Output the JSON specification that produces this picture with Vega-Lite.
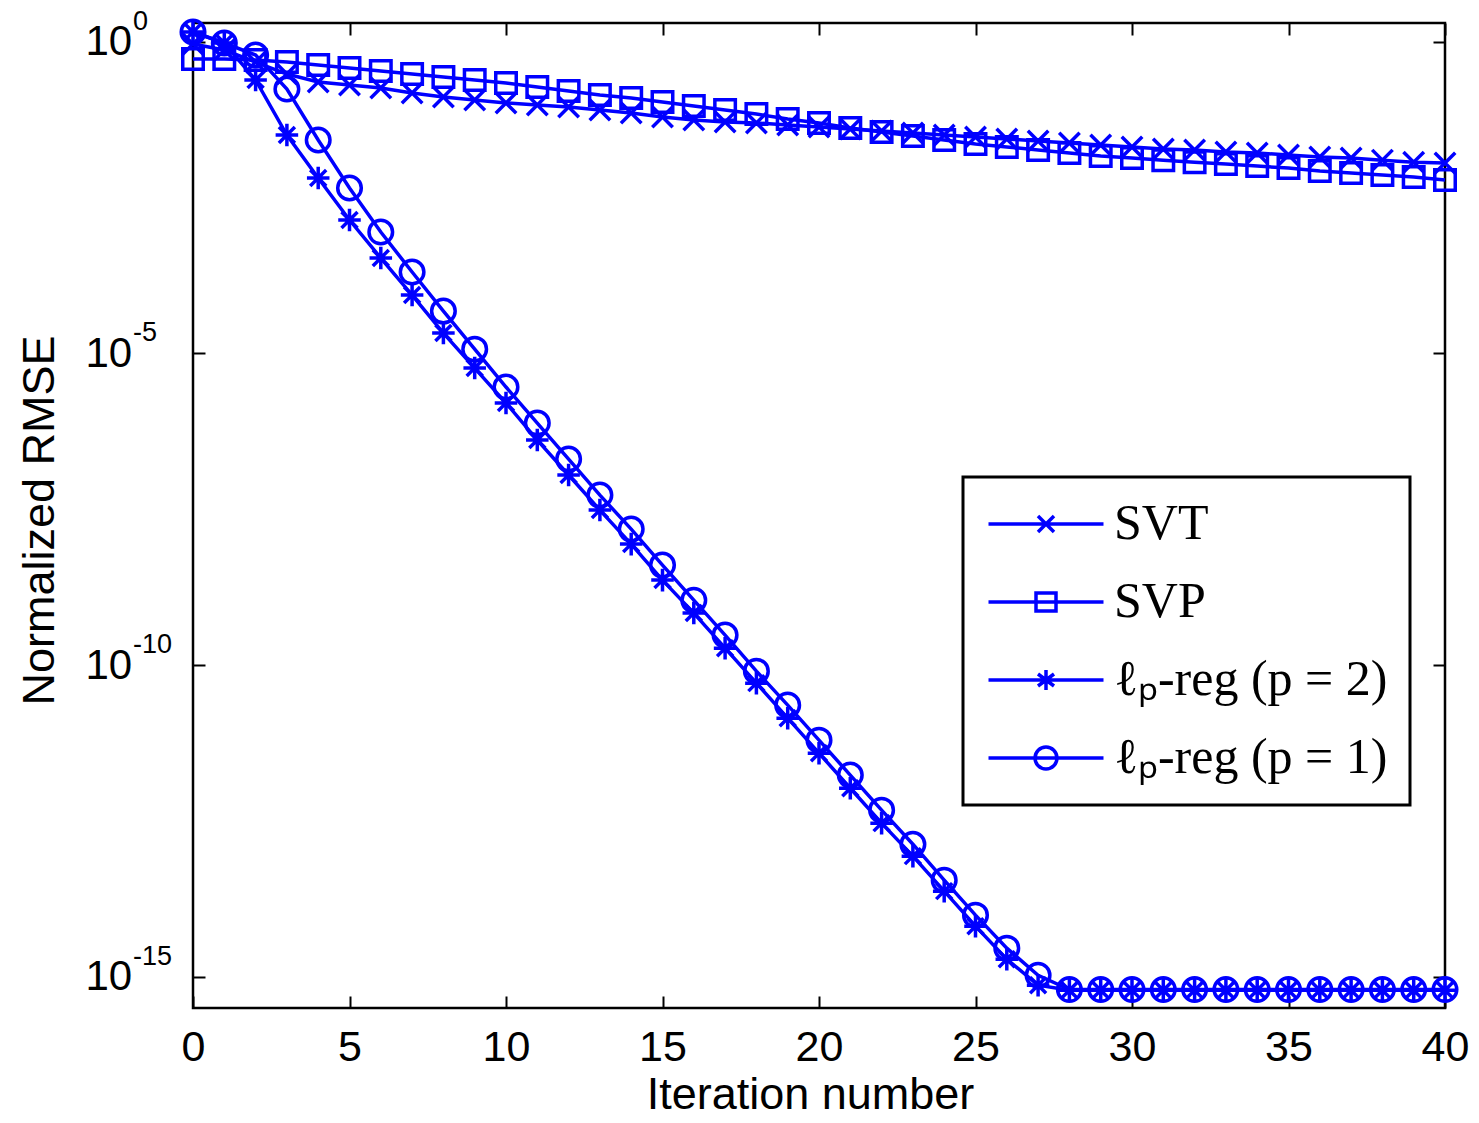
{
"$schema": "https://vega.github.io/schema/vega-lite/v6.json",
"width": 1252, "height": 985,
"autosize": {"type": "none"},
"padding": {"left": 193, "top": 23, "right": 34, "bottom": 115},
"background": "white",
"config": {"view": {"stroke": "black", "strokeWidth": 2.5}, "font": "Liberation Sans", "legend": {"strokeWidth": 3}},
"data": {"values": [
{"s":"SVT","x":0,"y":0.919},{"s":"SVT","x":1,"y":0.736},{"s":"SVT","x":2,"y":0.472},{"s":"SVT","x":3,"y":0.303},{"s":"SVT","x":4,"y":0.226},{"s":"SVT","x":5,"y":0.202},{"s":"SVT","x":6,"y":0.181},{"s":"SVT","x":7,"y":0.150},{"s":"SVT","x":8,"y":0.130},{"s":"SVT","x":9,"y":0.116},{"s":"SVT","x":10,"y":0.104},{"s":"SVT","x":11,"y":0.0965},{"s":"SVT","x":12,"y":0.0896},{"s":"SVT","x":13,"y":0.0802},{"s":"SVT","x":14,"y":0.0718},{"s":"SVT","x":15,"y":0.0619},{"s":"SVT","x":16,"y":0.0554},{"s":"SVT","x":17,"y":0.0515},{"s":"SVT","x":18,"y":0.0497},{"s":"SVT","x":19,"y":0.0461},{"s":"SVT","x":20,"y":0.0428},{"s":"SVT","x":21,"y":0.0397},{"s":"SVT","x":22,"y":0.0369},{"s":"SVT","x":23,"y":0.0343},{"s":"SVT","x":24,"y":0.0318},{"s":"SVT","x":25,"y":0.0296},{"s":"SVT","x":26,"y":0.0275},{"s":"SVT","x":27,"y":0.0255},{"s":"SVT","x":28,"y":0.0237},{"s":"SVT","x":29,"y":0.0220},{"s":"SVT","x":30,"y":0.0205},{"s":"SVT","x":31,"y":0.0190},{"s":"SVT","x":32,"y":0.0183},{"s":"SVT","x":33,"y":0.0170},{"s":"SVT","x":34,"y":0.0164},{"s":"SVT","x":35,"y":0.0152},{"s":"SVT","x":36,"y":0.0141},{"s":"SVT","x":37,"y":0.0136},{"s":"SVT","x":38,"y":0.0126},{"s":"SVT","x":39,"y":0.0117},{"s":"SVT","x":40,"y":0.0113},
{"s":"SVP","x":0,"y":0.527},{"s":"SVP","x":1,"y":0.527},{"s":"SVP","x":2,"y":0.508},{"s":"SVP","x":3,"y":0.472},{"s":"SVP","x":4,"y":0.423},{"s":"SVP","x":5,"y":0.378},{"s":"SVP","x":6,"y":0.339},{"s":"SVP","x":7,"y":0.303},{"s":"SVP","x":8,"y":0.271},{"s":"SVP","x":9,"y":0.243},{"s":"SVP","x":10,"y":0.218},{"s":"SVP","x":11,"y":0.188},{"s":"SVP","x":12,"y":0.162},{"s":"SVP","x":13,"y":0.140},{"s":"SVP","x":14,"y":0.125},{"s":"SVP","x":15,"y":0.108},{"s":"SVP","x":16,"y":0.0930},{"s":"SVP","x":17,"y":0.0802},{"s":"SVP","x":18,"y":0.0692},{"s":"SVP","x":19,"y":0.0575},{"s":"SVP","x":20,"y":0.0497},{"s":"SVP","x":21,"y":0.0412},{"s":"SVP","x":22,"y":0.0356},{"s":"SVP","x":23,"y":0.0307},{"s":"SVP","x":24,"y":0.0265},{"s":"SVP","x":25,"y":0.0229},{"s":"SVP","x":26,"y":0.0205},{"s":"SVP","x":27,"y":0.0183},{"s":"SVP","x":28,"y":0.0164},{"s":"SVP","x":29,"y":0.0147},{"s":"SVP","x":30,"y":0.0136},{"s":"SVP","x":31,"y":0.0126},{"s":"SVP","x":32,"y":0.0117},{"s":"SVP","x":33,"y":0.0109},{"s":"SVP","x":34,"y":0.0101},{"s":"SVP","x":35,"y":0.00941},{"s":"SVP","x":36,"y":0.00843},{"s":"SVP","x":37,"y":0.00782},{"s":"SVP","x":38,"y":0.00726},{"s":"SVP","x":39,"y":0.00675},{"s":"SVP","x":40,"y":0.00604},
{"s":"ℓₚ-reg (p = 2)","x":0,"y":1.43},{"s":"ℓₚ-reg (p = 2)","x":1,"y":0.953},{"s":"ℓₚ-reg (p = 2)","x":2,"y":0.243},{"s":"ℓₚ-reg (p = 2)","x":3,"y":0.0318},{"s":"ℓₚ-reg (p = 2)","x":4,"y":6.50e-3},{"s":"ℓₚ-reg (p = 2)","x":5,"y":1.38e-3},{"s":"ℓₚ-reg (p = 2)","x":6,"y":3.39e-4},{"s":"ℓₚ-reg (p = 2)","x":7,"y":8.63e-5},{"s":"ℓₚ-reg (p = 2)","x":8,"y":2.12e-5},{"s":"ℓₚ-reg (p = 2)","x":9,"y":5.82e-6},{"s":"ℓₚ-reg (p = 2)","x":10,"y":1.60e-6},{"s":"ℓₚ-reg (p = 2)","x":11,"y":4.07e-7},{"s":"ℓₚ-reg (p = 2)","x":12,"y":1.12e-7},{"s":"ℓₚ-reg (p = 2)","x":13,"y":3.07e-8},{"s":"ℓₚ-reg (p = 2)","x":14,"y":8.73e-9},{"s":"ℓₚ-reg (p = 2)","x":15,"y":2.31e-9},{"s":"ℓₚ-reg (p = 2)","x":16,"y":6.83e-10},{"s":"ℓₚ-reg (p = 2)","x":17,"y":1.87e-10},{"s":"ℓₚ-reg (p = 2)","x":18,"y":5.14e-11},{"s":"ℓₚ-reg (p = 2)","x":19,"y":1.41e-11},{"s":"ℓₚ-reg (p = 2)","x":20,"y":3.87e-12},{"s":"ℓₚ-reg (p = 2)","x":21,"y":1.06e-12},{"s":"ℓₚ-reg (p = 2)","x":22,"y":2.92e-13},{"s":"ℓₚ-reg (p = 2)","x":23,"y":8.63e-14},{"s":"ℓₚ-reg (p = 2)","x":24,"y":2.37e-14},{"s":"ℓₚ-reg (p = 2)","x":25,"y":6.50e-15},{"s":"ℓₚ-reg (p = 2)","x":26,"y":1.92e-15},{"s":"ℓₚ-reg (p = 2)","x":27,"y":7.34e-16},{"s":"ℓₚ-reg (p = 2)","x":28,"y":6.11e-16},{"s":"ℓₚ-reg (p = 2)","x":29,"y":6.11e-16},{"s":"ℓₚ-reg (p = 2)","x":30,"y":6.11e-16},{"s":"ℓₚ-reg (p = 2)","x":31,"y":6.11e-16},{"s":"ℓₚ-reg (p = 2)","x":32,"y":6.11e-16},{"s":"ℓₚ-reg (p = 2)","x":33,"y":6.11e-16},{"s":"ℓₚ-reg (p = 2)","x":34,"y":6.11e-16},{"s":"ℓₚ-reg (p = 2)","x":35,"y":6.11e-16},{"s":"ℓₚ-reg (p = 2)","x":36,"y":6.11e-16},{"s":"ℓₚ-reg (p = 2)","x":37,"y":6.11e-16},{"s":"ℓₚ-reg (p = 2)","x":38,"y":6.11e-16},{"s":"ℓₚ-reg (p = 2)","x":39,"y":6.11e-16},{"s":"ℓₚ-reg (p = 2)","x":40,"y":6.11e-16},
{"s":"ℓₚ-reg (p = 1)","x":0,"y":1.43},{"s":"ℓₚ-reg (p = 1)","x":1,"y":0.953},{"s":"ℓₚ-reg (p = 1)","x":2,"y":0.612},{"s":"ℓₚ-reg (p = 1)","x":3,"y":0.174},{"s":"ℓₚ-reg (p = 1)","x":4,"y":0.0265},{"s":"ℓₚ-reg (p = 1)","x":5,"y":4.50e-3},{"s":"ℓₚ-reg (p = 1)","x":6,"y":8.85e-4},{"s":"ℓₚ-reg (p = 1)","x":7,"y":2.02e-4},{"s":"ℓₚ-reg (p = 1)","x":8,"y":4.78e-5},{"s":"ℓₚ-reg (p = 1)","x":9,"y":1.17e-5},{"s":"ℓₚ-reg (p = 1)","x":10,"y":2.89e-6},{"s":"ℓₚ-reg (p = 1)","x":11,"y":7.63e-7},{"s":"ℓₚ-reg (p = 1)","x":12,"y":2.02e-7},{"s":"ℓₚ-reg (p = 1)","x":13,"y":5.34e-8},{"s":"ℓₚ-reg (p = 1)","x":14,"y":1.52e-8},{"s":"ℓₚ-reg (p = 1)","x":15,"y":4.02e-9},{"s":"ℓₚ-reg (p = 1)","x":16,"y":1.10e-9},{"s":"ℓₚ-reg (p = 1)","x":17,"y":3.03e-10},{"s":"ℓₚ-reg (p = 1)","x":18,"y":8.00e-11},{"s":"ℓₚ-reg (p = 1)","x":19,"y":2.28e-11},{"s":"ℓₚ-reg (p = 1)","x":20,"y":6.25e-12},{"s":"ℓₚ-reg (p = 1)","x":21,"y":1.72e-12},{"s":"ℓₚ-reg (p = 1)","x":22,"y":4.71e-13},{"s":"ℓₚ-reg (p = 1)","x":23,"y":1.34e-13},{"s":"ℓₚ-reg (p = 1)","x":24,"y":3.55e-14},{"s":"ℓₚ-reg (p = 1)","x":25,"y":9.75e-15},{"s":"ℓₚ-reg (p = 1)","x":26,"y":2.88e-15},{"s":"ℓₚ-reg (p = 1)","x":27,"y":1.06e-15},{"s":"ℓₚ-reg (p = 1)","x":28,"y":6.25e-16},{"s":"ℓₚ-reg (p = 1)","x":29,"y":6.25e-16},{"s":"ℓₚ-reg (p = 1)","x":30,"y":6.25e-16},{"s":"ℓₚ-reg (p = 1)","x":31,"y":6.25e-16},{"s":"ℓₚ-reg (p = 1)","x":32,"y":6.25e-16},{"s":"ℓₚ-reg (p = 1)","x":33,"y":6.25e-16},{"s":"ℓₚ-reg (p = 1)","x":34,"y":6.25e-16},{"s":"ℓₚ-reg (p = 1)","x":35,"y":6.25e-16},{"s":"ℓₚ-reg (p = 1)","x":36,"y":6.25e-16},{"s":"ℓₚ-reg (p = 1)","x":37,"y":6.25e-16},{"s":"ℓₚ-reg (p = 1)","x":38,"y":6.25e-16},{"s":"ℓₚ-reg (p = 1)","x":39,"y":6.25e-16},{"s":"ℓₚ-reg (p = 1)","x":40,"y":6.25e-16}
]},
"layer": [
{
"mark": {"type": "line", "color": "#0000ff", "strokeWidth": 3.5},
"encoding": {
"x": {"field": "x", "type": "quantitative", "scale": {"domain": [0, 40], "nice": false},
"axis": {"orient": "bottom", "values": [0,5,10,15,20,25,30,35,40], "domain": false, "grid": false, "tickSize": -12, "tickWidth": 2, "tickColor": "black", "labelFontSize": 43, "labelColor": "black", "labelPadding": 30, "labelFlush": false, "title": "Iteration number", "titleFontSize": 45, "titleFontWeight": "normal", "titleColor": "black", "titleY": 100, "titleX": 617, "titleBaseline": "alphabetic", "titleAlign": "center"}},
"y": {"field": "y", "type": "quantitative", "scale": {"type": "log", "domain": [3.1623e-16, 1.9953], "nice": false},
"axis": {"orient": "left", "values": [1e-15, 1e-10, 1e-5, 1], "domain": false, "grid": false, "tickSize": -12, "tickWidth": 2, "tickColor": "black", "labelFontSize": 42, "labelColor": "black", "labelAlign": "left", "labelBaseline": "middle", "labelPadding": 120, "labelFlush": false, "labelExpr": "'10'",
"title": "Normalized RMSE", "titleFontSize": 45, "titleFontWeight": "normal", "titleColor": "black", "titleX": -140, "titleY": 497, "titleBaseline": "alphabetic", "titleAngle": -90, "titleAlign": "center"}},
"detail": {"field": "s"}
}
},
{
"mark": {"type": "point", "filled": false, "opacity": 1, "strokeWidth": 3.5, "color": "#0000ff", "size": 420},
"encoding": {
"x": {"field": "x", "type": "quantitative",
"axis": {"orient": "top", "values": [0,5,10,15,20,25,30,35,40], "labels": false, "domain": false, "grid": false, "tickSize": -12, "tickWidth": 2, "tickColor": "black", "title": null}},
"y": {"field": "y", "type": "quantitative",
"axis": {"orient": "right", "values": [1e-15, 1e-10, 1e-5, 1], "labels": false, "domain": false, "grid": false, "tickSize": -12, "tickWidth": 2, "tickColor": "black", "title": null}},
"shape": {"field": "s", "type": "nominal", "legend": null,
"scale": {"domain": ["SVT", "SVP", "ℓₚ-reg (p = 2)", "ℓₚ-reg (p = 1)"],
"range": ["M-1,-1L1,1M-1,1L1,-1", "M-1,-1L1,-1L1,1L-1,1Z", "M0,-1.1L0,1.1M-1.1,0L1.1,0M-0.78,-0.78L0.78,0.78M-0.78,0.78L0.78,-0.78", "M1.15,0A1.15,1.15 0 1,1 -1.15,0A1.15,1.15 0 1,1 1.15,0Z"]}}
}
},
{
"mark": {"type": "point", "filled": false, "opacity": 0, "strokeWidth": 3.5, "color": "#0000ff", "size": 400},
"encoding": {
"x": {"field": "x", "type": "quantitative", "axis": null},
"y": {"field": "y", "type": "quantitative", "axis": null},
"shape": {"field": "s", "type": "nominal",
"scale": {"domain": ["SVT", "SVP", "ℓₚ-reg (p = 2)", "ℓₚ-reg (p = 1)"],
"range": ["M-5.75,0L5.75,0M-0.8,-0.8L0.8,0.8M-0.8,0.8L0.8,-0.8", "M-5.75,0L5.75,0M-1,-0.9L1,-0.9L1,0.9L-1,0.9Z", "M-5.75,0L5.75,0M0,-1L0,1M-0.8,-0.6L0.8,0.6M-0.8,0.6L0.8,-0.6", "M-5.75,0L5.75,0M1.1,0A1.1,1.1 0 1,1 -1.1,0A1.1,1.1 0 1,1 1.1,0Z"]},
"legend": {"orient": "none", "legendX": 770, "legendY": 454, "title": null, "labelFont": "Liberation Serif", "labelFontSize": 50, "labelColor": "black", "labelLimit": 0, "padding": 22, "strokeColor": "black", "fillColor": "white", "symbolSize": 400, "symbolOffset": 36, "labelOffset": 43, "rowPadding": 28, "symbolStrokeWidth": 3.5, "symbolStrokeColor": "#0000ff", "symbolFillColor": "transparent", "symbolOpacity": 1}}
}
},
{
"data": {"values": [{"e": "0", "v": 1}, {"e": "-5", "v": 1e-5}, {"e": "-10", "v": 1e-10}, {"e": "-15", "v": 1e-15}]},
"mark": {"type": "text", "align": "left", "baseline": "middle", "dx": -60, "dy": -20, "fontSize": 27, "font": "Liberation Sans", "color": "black"},
"encoding": {
"x": {"datum": 0, "type": "quantitative", "axis": null},
"y": {"field": "v", "type": "quantitative", "axis": null},
"text": {"field": "e"}
}
}
],
"resolve": {"scale": {"shape": "independent"}, "axis": {"x": "independent", "y": "independent"}}
}
